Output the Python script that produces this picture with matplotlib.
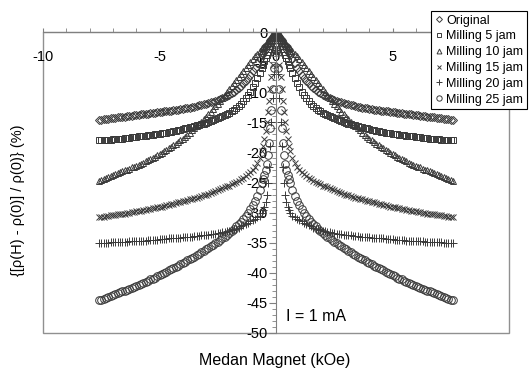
import numpy as np
import matplotlib.pyplot as plt
from matplotlib.patches import Rectangle

plt.rcParams['font.family'] = ['Liberation Sans', 'DejaVu Sans']

# field values for one half of the sweep (kOe); curves are mirrored about H = 0
field = [0, 0.05, 0.1, 0.15, 0.2, 0.25, 0.3, 0.35, 0.4, 0.45, 0.5, 0.55, 0.6,
         0.7, 0.8, 0.9, 1.0, 1.1, 1.2, 1.3, 1.4, 1.5, 1.6,
         1.7, 1.8, 1.9, 2.0, 2.1, 2.2, 2.3, 2.4, 2.5, 2.6,
         2.7, 2.8, 2.9, 3.0, 3.1, 3.2, 3.3, 3.4, 3.5, 3.6,
         3.7, 3.8, 3.9, 4.0, 4.1, 4.2, 4.3, 4.4, 4.5, 4.6,
         4.7, 4.8, 4.9, 5.0, 5.1, 5.2, 5.3, 5.4, 5.5, 5.6,
         5.7, 5.8, 5.9, 6.0, 6.1, 6.2, 6.3, 6.4, 6.5, 6.6,
         6.7, 6.8, 6.9, 7.0, 7.1, 7.2, 7.3, 7.4, 7.5, 7.6]

original = [0, -0.2, -0.5, -0.8, -1.1, -1.4, -1.8, -2.1, -2.4, -2.8, -3.1, -3.5, -3.8,
            -4.5, -5.2, -5.9, -6.5, -7.1, -7.6, -8.1, -8.5, -8.9, -9.3,
            -9.6, -9.9, -10.2, -10.4, -10.6, -10.8, -11.0, -11.1, -11.3, -11.4,
            -11.55, -11.7, -11.8, -11.9, -12.0, -12.1, -12.2, -12.3, -12.4, -12.5,
            -12.55, -12.6, -12.7, -12.8, -12.85, -12.9, -12.95, -13.0, -13.05, -13.1,
            -13.15, -13.2, -13.25, -13.3, -13.35, -13.4, -13.45, -13.5, -13.55, -13.6,
            -13.65, -13.7, -13.75, -13.8, -13.85, -13.9, -13.95, -14.0, -14.05, -14.1,
            -14.15, -14.2, -14.25, -14.3, -14.35, -14.4, -14.45, -14.5, -14.55, -14.6]
mill5 = [0, -0.4, -0.9, -1.4, -1.9, -2.4, -2.9, -3.4, -3.9, -4.4, -4.9, -5.4, -5.9,
         -6.8, -7.7, -8.5, -9.2, -9.9, -10.5, -11.0, -11.5, -11.9, -12.3,
         -12.6, -12.9, -13.2, -13.4, -13.6, -13.8, -14.0, -14.2, -14.35, -14.5,
         -14.65, -14.8, -14.95, -15.1, -15.2, -15.3, -15.4, -15.5, -15.6, -15.7,
         -15.8, -15.9, -16.0, -16.1, -16.2, -16.3, -16.4, -16.5, -16.55, -16.6,
         -16.7, -16.8, -16.85, -16.9, -16.95, -17.0, -17.05, -17.1, -17.15, -17.2,
         -17.25, -17.3, -17.35, -17.4, -17.45, -17.5, -17.55, -17.6, -17.65, -17.7,
         -17.75, -17.8, -17.8, -17.85, -17.9, -17.9, -17.95, -17.95, -18.0, -18.0]
mill10 = [0, -0.15, -0.35, -0.55, -0.8, -1.0, -1.25, -1.5, -1.75, -2.0, -2.25, -2.5, -2.7,
          -3.2, -3.6, -4.05, -4.5, -5.0, -5.5, -6.0, -6.5, -7.0, -7.5,
          -8.0, -8.5, -9.0, -9.5, -10.0, -10.5, -10.95, -11.45, -11.9, -12.35,
          -12.8, -13.25, -13.7, -14.1, -14.5, -14.9, -15.3, -15.65, -16.0, -16.35,
          -16.7, -17.05, -17.4, -17.7, -18.0, -18.3, -18.55, -18.8, -19.1, -19.35,
          -19.6, -19.85, -20.1, -20.3, -20.5, -20.7, -20.9, -21.1, -21.3, -21.5,
          -21.7, -21.85, -22.05, -22.2, -22.35, -22.5, -22.7, -22.85, -23.0, -23.15,
          -23.3, -23.45, -23.6, -23.8, -23.95, -24.1, -24.25, -24.4, -24.55, -24.7]
mill15 = [0, -1.5, -3.5, -5.5, -7.5, -9.5, -11.5, -13.3, -15.0, -16.5, -17.8, -18.9, -19.8,
          -21.0, -21.8, -22.4, -22.9, -23.3, -23.6, -23.9, -24.2, -24.45, -24.7,
          -24.9, -25.1, -25.3, -25.5, -25.65, -25.8, -25.95, -26.1, -26.25, -26.4,
          -26.55, -26.7, -26.85, -27.0, -27.1, -27.2, -27.35, -27.5, -27.6, -27.7,
          -27.8, -27.9, -28.0, -28.1, -28.2, -28.3, -28.4, -28.5, -28.6, -28.7,
          -28.8, -28.9, -29.0, -29.1, -29.15, -29.2, -29.3, -29.4, -29.45, -29.5,
          -29.6, -29.7, -29.75, -29.8, -29.85, -29.9, -30.0, -30.1, -30.15, -30.2,
          -30.25, -30.3, -30.35, -30.4, -30.45, -30.5, -30.6, -30.7, -30.75, -30.8]
mill20 = [0, -3.0, -7.0, -11.0, -15.0, -19.0, -22.5, -25.0, -27.0, -28.2, -29.0, -29.6, -30.0,
          -30.5, -30.8, -31.0, -31.2, -31.45, -31.7, -31.9, -32.1, -32.3, -32.5,
          -32.65, -32.8, -32.9, -33.0, -33.1, -33.2, -33.3, -33.4, -33.45, -33.5,
          -33.55, -33.6, -33.65, -33.7, -33.75, -33.8, -33.85, -33.9, -33.95, -34.0,
          -34.0, -34.05, -34.1, -34.1, -34.15, -34.2, -34.2, -34.25, -34.3, -34.3,
          -34.35, -34.4, -34.4, -34.45, -34.5, -34.5, -34.55, -34.6, -34.6, -34.65,
          -34.65, -34.7, -34.7, -34.75, -34.75, -34.8, -34.8, -34.85, -34.85, -34.9,
          -34.9, -34.9, -34.95, -34.95, -34.95, -35.0, -35.0, -35.0, -35.05, -35.05]
mill25 = [0, -3.0, -6.0, -9.5, -13.0, -16.0, -18.5, -20.5, -22.0, -23.0, -23.8, -24.5, -25.1,
          -26.2, -27.2, -28.0, -28.7, -29.4, -30.0, -30.5, -31.0, -31.5, -31.9,
          -32.3, -32.7, -33.05, -33.4, -33.7, -34.0, -34.3, -34.6, -34.85, -35.1,
          -35.35, -35.6, -35.85, -36.1, -36.35, -36.6, -36.85, -37.1, -37.3, -37.5,
          -37.7, -37.9, -38.15, -38.4, -38.6, -38.8, -39.0, -39.2, -39.4, -39.6,
          -39.8, -40.0, -40.2, -40.4, -40.6, -40.8, -40.95, -41.1, -41.3, -41.5,
          -41.65, -41.8, -42.0, -42.2, -42.35, -42.5, -42.65, -42.8, -42.95, -43.1,
          -43.25, -43.4, -43.55, -43.7, -43.85, -44.0, -44.15, -44.3, -44.45, -44.6]

labels = ['Original', 'Milling 5 jam', 'Milling 10 jam', 'Milling 15 jam',
          'Milling 20 jam', 'Milling 25 jam']
series = [original, mill5, mill10, mill15, mill20, mill25]
markers = ['D', 's', '^', 'x', '+', 'o']
sizes = [4.3, 5.0, 5.0, 5.0, 6.0, 5.5]

fig = plt.figure(figsize=(5.29, 3.70), dpi=100)
ax = fig.add_axes([43 / 529, 37 / 370, 466 / 529, 301 / 370])

h = np.array(field)
for vals, lab, m, s in zip(series, labels, markers, sizes):
    v = np.array(vals)
    xx = np.concatenate([-h[::-1], h[1:]])
    yy = np.concatenate([v[::-1], v[1:]])
    ax.plot(xx, yy, linestyle='none', marker=m, ms=s, mfc='none',
            mec='#3a3a3a', mew=0.7, label=lab)

ax.set_xlim(-10, 10)
ax.set_ylim(-50, 0)

# axes cross at the origin, plot box drawn separately
for side in ['top', 'right']:
    ax.spines[side].set_visible(False)
ax.spines['left'].set_position(('data', 0))
ax.spines['bottom'].set_position(('data', 0))
ax.spines['left'].set_color('#808080')
ax.spines['bottom'].set_color('#808080')
ax.add_patch(Rectangle((0, 0), 1, 1, transform=ax.transAxes, fill=False,
                       ec='#909090', lw=1.0, clip_on=False))

ax.set_xticks([-10, -5, 0, 5, 10])
ax.set_xticklabels(['-10', '-5', '0', '5', ''])
ax.set_xticks(np.arange(-10, 11, 1), minor=True)
ax.set_yticks(np.arange(-50, 1, 5))
ax.set_yticks(np.arange(-50, 1, 1), minor=True)
ax.tick_params(axis='x', which='both', direction='in', length=3, color='#808080',
               labelsize=10.5, pad=13)
ax.tick_params(axis='y', which='major', direction='out', length=5, color='#808080',
               labelsize=10.5, pad=1)
ax.tick_params(axis='y', which='minor', direction='out', length=3, color='#808080')
ax.set_yticklabels([str(int(t)) for t in np.arange(-50, 1, 5)])

ax.text(0.42, -47.2, 'I = 1 mA', fontsize=11.5, va='center', ha='left')

fig.text(275 / 529, 1 - 361 / 370, 'Medan Magnet (kOe)', fontsize=11.5,
         ha='center', va='center')
fig.text(18 / 529, 1 - 200 / 370, '{[ρ(H) - ρ(0)] / ρ(0)} (%)', fontsize=10.5,
         ha='center', va='center', rotation=90)

leg = fig.legend(loc='upper left', bbox_to_anchor=(431 / 529, 1 - 11 / 370),
                 bbox_transform=fig.transFigure, borderaxespad=0, fontsize=9,
                 handlelength=0.6, handletextpad=0.3, labelspacing=0.3,
                 borderpad=0.3, markerscale=0.7, fancybox=False, framealpha=1)
leg.get_frame().set_edgecolor('black')
leg.get_frame().set_linewidth(0.8)

fig.savefig('out.png', dpi=100)
